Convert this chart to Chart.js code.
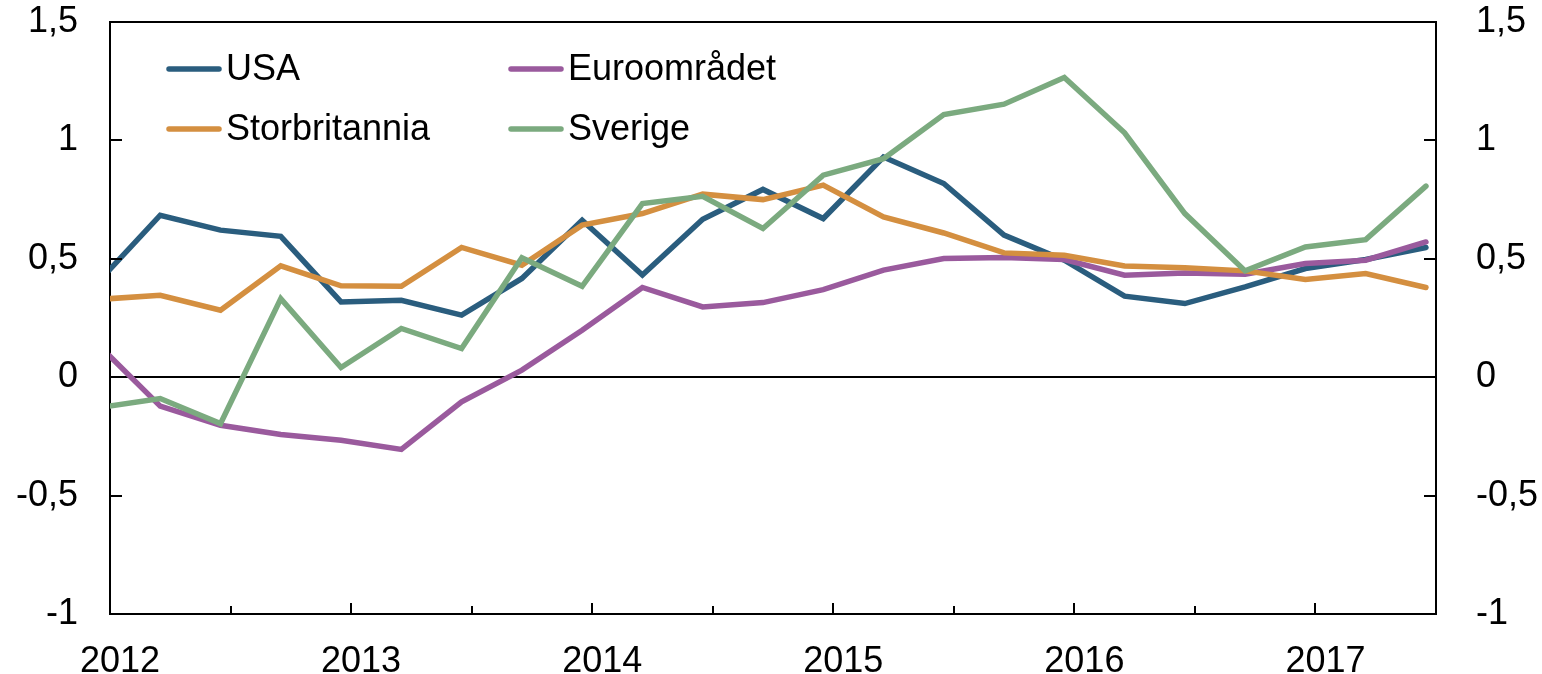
<!DOCTYPE html>
<html>
<head>
<meta charset="utf-8">
<title>Kjerneinflasjon</title>
<script src="https://cdn.jsdelivr.net/npm/chart.js@4/dist/chart.umd.min.js"></script>
<style>
  html, body { margin: 0; padding: 0; background: #fff; }
</style>
</head>
<body>
<canvas id="myChart" width="1542" height="674"></canvas>
<script>
// quarterly observations, plotted mid-month of the last month in the quarter
var dates = ["2011-12", "2012-03", "2012-06", "2012-09", "2012-12", "2013-03", "2013-06", "2013-09",
  "2013-12", "2014-03", "2014-06", "2014-09", "2014-12", "2015-03", "2015-06", "2015-09",
  "2015-12", "2016-03", "2016-06", "2016-09", "2016-12", "2017-03", "2017-06"];

var usa = [0.41, 0.684, 0.621, 0.595, 0.318, 0.325, 0.262, 0.417, 0.663, 0.431, 0.667, 0.793,
  0.67, 0.93, 0.818, 0.6, 0.494, 0.342, 0.311, 0.381, 0.459, 0.497, 0.548];
var euro = [0.13, -0.122, -0.203, -0.242, -0.266, -0.305, -0.104, 0.03, 0.198, 0.379, 0.297, 0.315,
  0.37, 0.452, 0.501, 0.505, 0.497, 0.431, 0.44, 0.435, 0.48, 0.494, 0.571];
var uk = [0.329, 0.346, 0.283, 0.47, 0.386, 0.384, 0.548, 0.473, 0.642, 0.691, 0.773, 0.75,
  0.811, 0.677, 0.609, 0.525, 0.515, 0.47, 0.462, 0.449, 0.413, 0.438, 0.379];
var sweden = [-0.128, -0.09, -0.196, 0.332, 0.041, 0.206, 0.121, 0.504, 0.384, 0.733, 0.764, 0.628,
  0.853, 0.923, 1.109, 1.153, 1.266, 1.032, 0.691, 0.449, 0.55, 0.581, 0.807];

var seriesNames = ["USA", "Euroområdet", "Storbritannia", "Sverige"];
var yTicks = [-1, -0.5, 0, 0.5, 1, 1.5];

var colors = {
  usa: "#2A5D7E",
  euro: "#9A5A9D",
  uk: "#D48F40",
  sweden: "#7BAA7F"
};

Chart.defaults.font.family = "'Liberation Sans', Arial, sans-serif";
Chart.defaults.font.size = 36;
Chart.defaults.color = "#000";

function toX(d) {
  var p = d.split("-");
  return +p[0] + (+p[1] - 0.5) / 12;
}

function points(values) {
  return values.map(function(v, i) {
    return { x: toX(dates[i]), y: v };
  });
}

function fmt(v) {
  return String(v).replace(".", ",");
}

function makeSet(label, values, color, order) {
  return {
    label: label,
    data: points(values),
    borderColor: color,
    backgroundColor: color,
    borderWidth: 5.5,
    pointRadius: 0,
    tension: 0,
    borderCapStyle: "round",
    clip: 0,
    order: order
  };
}

// y scales: drop the extra label padding chart.js adds above/below the axis
function fitY(width) {
  return function(scale) {
    scale.width = width;
    scale.paddingTop = 0;
    scale.paddingBottom = 0;
  };
}

// tick marks pointing into the plot, and the legend inside the plot
var innerTicks = {
  id: "innerTicks",
  afterDraw: function(chart) {
    var ctx = chart.ctx;
    var area = chart.chartArea;
    var xs = chart.scales.x;
    ctx.save();
    ctx.strokeStyle = "#000";
    ctx.lineWidth = 2;
    ctx.beginPath();
    xs.ticks.forEach(function(t) {
      if (t.value <= xs.min || t.value >= xs.max) return;
      var px = Math.round(xs.getPixelForValue(t.value));
      var len = Number.isInteger(t.value) ? 11 : 8;
      ctx.moveTo(px, area.bottom);
      ctx.lineTo(px, area.bottom - len);
    });
    chart.scales.y.ticks.forEach(function(t) {
      var py = Math.round(chart.scales.y.getPixelForValue(t.value));
      ctx.moveTo(area.left, py);
      ctx.lineTo(area.left + 12, py);
    });
    chart.scales.y2.ticks.forEach(function(t) {
      var py = Math.round(chart.scales.y2.getPixelForValue(t.value));
      ctx.moveTo(area.right, py);
      ctx.lineTo(area.right - 12, py);
    });
    ctx.stroke();

    // legend, two columns
    var sets = chart.data.datasets;
    var slots = [
      { x: 169, y: 80 },
      { x: 511, y: 80 },
      { x: 169, y: 140 },
      { x: 511, y: 140 }
    ];
    ctx.font = "36px 'Liberation Sans', Arial, sans-serif";
    ctx.textBaseline = "alphabetic";
    ctx.textAlign = "left";
    sets.forEach(function(ds, i) {
      var s = slots[i];
      ctx.beginPath();
      ctx.strokeStyle = ds.borderColor;
      ctx.lineWidth = 5.5;
      ctx.lineCap = "round";
      ctx.moveTo(s.x, s.y - 11);
      ctx.lineTo(s.x + 50, s.y - 11);
      ctx.stroke();
      ctx.fillStyle = "#000";
      ctx.fillText(ds.label, s.x + 57, s.y);
    });
    ctx.restore();
  }
};

var ctx = document.getElementById("myChart");

var chart = new Chart(ctx, {
  type: "line",
  data: {
    datasets: [
      makeSet(seriesNames[0], usa, colors.usa, 3),
      makeSet(seriesNames[1], euro, colors.euro, 2),
      makeSet(seriesNames[2], uk, colors.uk, 1),
      makeSet(seriesNames[3], sweden, colors.sweden, 0)
    ]
  },
  options: {
    responsive: false,
    animation: false,
    devicePixelRatio: 1,
    layout: { padding: { top: 22, left: 0, right: 0, bottom: 0 } },
    plugins: {
      legend: { display: false },
      tooltip: { enabled: false }
    },
    scales: {
      x: {
        type: "linear",
        min: 2012,
        max: 2017.5,
        afterFit: function(scale) {
          scale.height = 60;
          scale.paddingLeft = 0;
          scale.paddingRight = 0;
        },
        grid: { display: false },
        border: { display: true, color: "#000", width: 2 },
        ticks: {
          stepSize: 0.5,
          autoSkip: false,
          maxRotation: 0,
          padding: 18,
          labelOffset: 10,
          callback: function(v) { return Number.isInteger(v) ? String(v) : ""; }
        }
      },
      y: {
        position: "left",
        min: yTicks[0],
        max: yTicks[yTicks.length - 1],
        afterFit: fitY(110),
        grid: {
          display: true,
          drawOnChartArea: true,
          drawTicks: false,
          lineWidth: 2,
          color: function(c) {
            var v = c.tick ? c.tick.value : null;
            return (v === 0 || v === yTicks[yTicks.length - 1]) ? "#000" : "rgba(0,0,0,0)";
          }
        },
        border: { display: true, color: "#000", width: 2 },
        ticks: {
          stepSize: 0.5,
          padding: 32,
          callback: function(v) { return fmt(v); }
        }
      },
      y2: {
        position: "right",
        min: yTicks[0],
        max: yTicks[yTicks.length - 1],
        afterFit: fitY(106),
        grid: { display: false },
        border: { display: true, color: "#000", width: 2 },
        ticks: {
          stepSize: 0.5,
          padding: 32,
          callback: function(v) { return fmt(v); }
        }
      }
    }
  },
  plugins: [innerTicks]
});
</script>
</body>
</html>
